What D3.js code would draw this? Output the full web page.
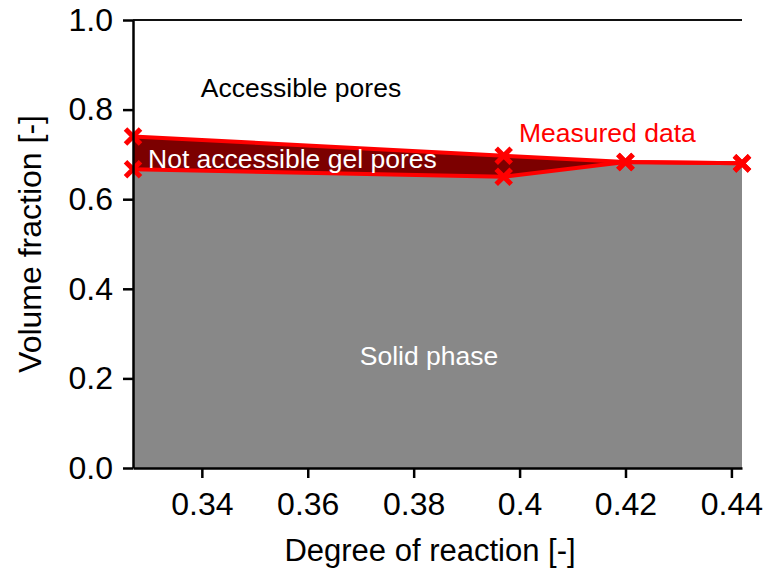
<!DOCTYPE html>
<html>
<head>
<meta charset="utf-8">
<script src="https://cdn.jsdelivr.net/npm/d3@7"></script>
<style>
  html, body { margin: 0; padding: 0; background: #fff; }
  svg { display: block; font-family: "Liberation Sans", Arial, Helvetica, sans-serif; }
</style>
</head>
<body>
<svg id="chart" width="771" height="574"></svg>
<script>
// Data
const degreeOfReaction = [0.327, 0.397, 0.42, 0.442];
const solidPhase       = [0.667, 0.650, 0.683, 0.680];   // top of solid phase
const gelPoresTop      = [0.740, 0.697, 0.683, 0.680];   // top of not-accessible gel pores
const accessibleTop    = [1.0, 1.0, 1.0, 1.0];
const xTicks = [0.34, 0.36, 0.38, 0.40, 0.42, 0.44];
const xTickLabels = ["0.34", "0.36", "0.38", "0.4", "0.42", "0.44"];
const yTicks = [0.0, 0.2, 0.4, 0.6, 0.8, 1.0];
const yTickLabels = ["0.0", "0.2", "0.4", "0.6", "0.8", "1.0"];

const rows = degreeOfReaction.map((d, i) => ({
  x: d, solid: solidPhase[i], gel: gelPoresTop[i], top: accessibleTop[i]
}));

const svg = d3.select("#chart");
const x = d3.scaleLinear().domain([0.327, 0.442]).range([133, 742]);
const y = d3.scaleLinear().domain([0, 1]).range([468, 20]);

// Solid phase area
svg.append("path")
  .datum(rows)
  .attr("fill", "#888888")
  .attr("d", d3.area().x(d => x(d.x)).y0(y(0)).y1(d => y(d.solid)));

// Not accessible gel pores area
svg.append("path")
  .datum(rows)
  .attr("fill", "#7c0000")
  .attr("d", d3.area().x(d => x(d.x)).y0(d => y(d.solid)).y1(d => y(d.gel)));

// Top line at 1.0
svg.append("path")
  .datum(rows)
  .attr("fill", "none")
  .attr("stroke", "#111")
  .attr("stroke-width", 2)
  .attr("d", d3.line().x(d => x(d.x)).y(d => y(d.top)));

// Measured data lines
const lineGen = key => d3.line().x(d => x(d.x)).y(d => y(d[key]));
["solid", "gel"].forEach(k => {
  svg.append("path")
    .datum(rows)
    .attr("fill", "none")
    .attr("stroke", "#ff0000")
    .attr("stroke-width", 4)
    .attr("stroke-linejoin", "round")
    .attr("d", lineGen(k));
});

// Markers (x)
const pts = [];
rows.forEach(r => { pts.push([r.x, r.solid]); pts.push([r.x, r.gel]); });
const ms = 7.5;
svg.append("g").selectAll("path").data(pts).join("path")
  .attr("fill", "none")
  .attr("stroke", "#ff0000")
  .attr("stroke-width", 5)
  .attr("d", d => {
    const cx = x(d[0]), cy = y(d[1]);
    return `M${cx-ms},${cy-ms}L${cx+ms},${cy+ms}M${cx-ms},${cy+ms}L${cx+ms},${cy-ms}`;
  });

// Axes
const xAxis = d3.axisBottom(x).tickValues(xTicks).tickFormat((d, i) => xTickLabels[i])
  .tickSizeInner(10).tickSizeOuter(0).tickPadding(14);
const gx = svg.append("g").attr("transform", `translate(0,${y(0)})`).call(xAxis);
gx.select(".domain").attr("stroke", "#000").attr("stroke-width", 2.5);
gx.selectAll(".tick line").attr("stroke", "#000").attr("stroke-width", 2.5);
gx.selectAll(".tick text").attr("font-size", 32).attr("fill", "#000")
  .attr("font-family", "Liberation Sans, Arial, sans-serif");

const yAxis = d3.axisLeft(y).tickValues(yTicks).tickFormat((d, i) => yTickLabels[i])
  .tickSizeInner(10).tickSizeOuter(0).tickPadding(10);
const gy = svg.append("g").attr("transform", `translate(${x(0.327)},0)`).call(yAxis);
gy.select(".domain").attr("stroke", "#000").attr("stroke-width", 2.5);
gy.selectAll(".tick line").attr("stroke", "#000").attr("stroke-width", 2.5);
gy.selectAll(".tick text").attr("font-size", 32).attr("fill", "#000")
  .attr("font-family", "Liberation Sans, Arial, sans-serif");

// Axis titles
svg.append("text")
  .attr("x", 430).attr("y", 561)
  .attr("text-anchor", "middle")
  .attr("font-size", 31)
  .text("Degree of reaction [-]");
svg.append("text")
  .attr("transform", "translate(41,244) rotate(-90)")
  .attr("text-anchor", "middle")
  .attr("font-size", 32)
  .text("Volume fraction [-]");

// Annotations
svg.append("text").attr("x", 301).attr("y", 97).attr("text-anchor", "middle")
  .attr("font-size", 26.5).attr("fill", "#000").text("Accessible pores");
svg.append("text").attr("x", 148).attr("y", 168)
  .attr("font-size", 26.5).attr("fill", "#fff").text("Not accessible gel pores");
svg.append("text").attr("x", 519).attr("y", 142)
  .attr("font-size", 26.5).attr("fill", "#ff0000").text("Measured data");
svg.append("text").attr("x", 429).attr("y", 365).attr("text-anchor", "middle")
  .attr("font-size", 26.5).attr("fill", "#fff").text("Solid phase");
</script>
</body>
</html>
